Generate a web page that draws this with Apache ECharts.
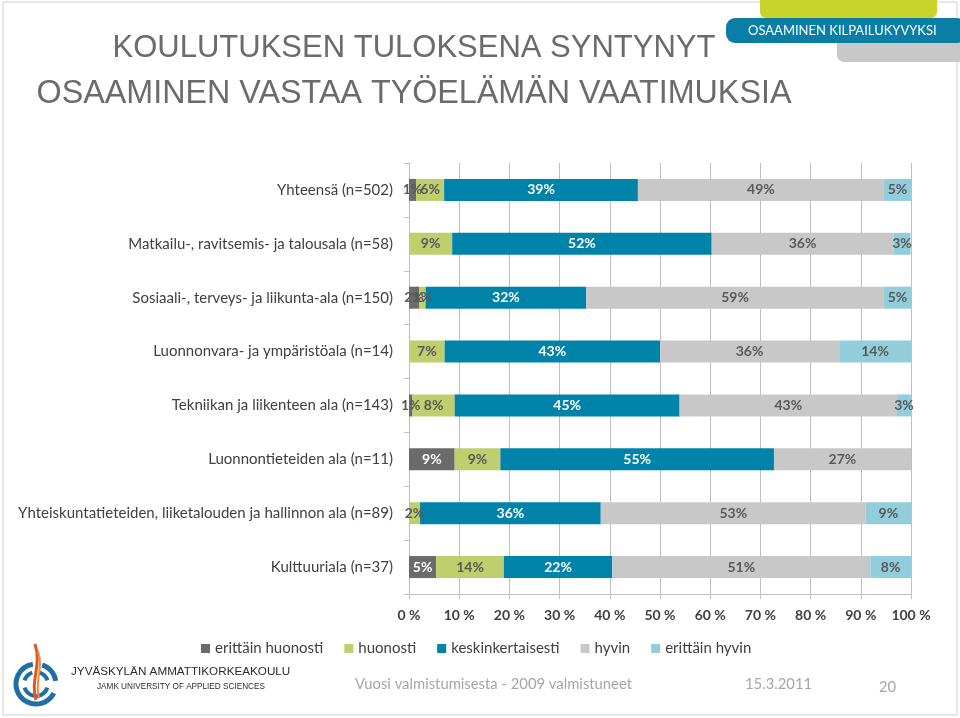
<!DOCTYPE html>
<html><head><meta charset="utf-8">
<script src="https://cdn.jsdelivr.net/npm/echarts@6/dist/echarts.min.js"></script>
<style>html,body{margin:0;padding:0;background:#fff;}#c{width:960px;height:718px;}</style>
</head><body><div id="c"></div>
<script>
const categories = [
  'Yhteensä (n=502)',
  'Matkailu-, ravitsemis- ja talousala (n=58)',
  'Sosiaali-, terveys- ja liikunta-ala (n=150)',
  'Luonnonvara- ja ympäristöala (n=14)',
  'Tekniikan ja liikenteen ala (n=143)',
  'Luonnontieteiden ala (n=11)',
  'Yhteiskuntatieteiden, liiketalouden ja hallinnon ala (n=89)',
  'Kulttuuriala (n=37)'
];
const seriesNames = ['erittäin huonosti', 'huonosti', 'keskinkertaisesti', 'hyvin', 'erittäin hyvin'];
// shares in percent (labels show rounded values)
const erittainHuonosti = [1.4, 0,    2.0,  0,    0.7,  9.1,  0,    5.4];
const huonosti         = [5.6, 8.6,  1.3,  7.1,  8.4,  9.1,  2.2,  13.5];
const keskinkertaisesti= [38.6, 51.7, 32.0, 42.9, 44.8, 54.5, 36.0, 21.6];
const hyvin            = [49.0, 36.2, 59.3, 35.7, 43.3, 27.3, 52.8, 51.4];
const erittainHyvin    = [5.4, 3.4,  5.4,  14.3, 2.8,  0,    9.0,  8.1];
const xTicks = ['0 %','10 %','20 %','30 %','40 %','50 %','60 %','70 %','80 %','90 %','100 %'];

const colors = ['#6b6b6b', '#bfcf6e', '#0083a9', '#c8c8c8', '#92cddc'];
const labelColors = ['#ffffff', '#595959', '#ffffff', '#595959', '#595959'];
const allValues = [erittainHuonosti, huonosti, keskinkertaisesti, hyvin, erittainHyvin];
const FONT = 'Lato';

const series = allValues.map((vals, si) => ({
  name: seriesNames[si],
  type: 'bar',
  stack: 'total',
  barWidth: 22,
  itemStyle: { color: colors[si] },
  label: {
    show: true,
    position: 'inside',
    fontFamily: FONT,
    fontWeight: 'bold',
    fontSize: 14,
    color: labelColors[si],
    formatter: p => p.value > 0 ? Math.round(p.value) + '%' : ''
  },
  data: vals.map(v => (si === 0 && v < 3) ? { value: v, label: { color: '#595959' } } : v)
}));

const chart = echarts.init(document.getElementById('c'));
chart.setOption({
  backgroundColor: '#ffffff',
  animation: false,
  textStyle: { fontFamily: FONT },
  grid: { left: 409, right: 49, top: 163, bottom: 124, containLabel: false },
  xAxis: {
    type: 'value', min: 0, max: 100, interval: 10,
    axisLine: { show: true, lineStyle: { color: '#bfbfbf' } },
    axisTick: { show: true, length: 5, lineStyle: { color: '#bfbfbf' } },
    splitLine: { show: true, lineStyle: { color: '#bfbfbf', width: 1 } },
    axisLabel: { color: '#404040', fontSize: 14, fontWeight: 'bold', fontFamily: FONT, margin: 14,
      formatter: v => xTicks[Math.round(v / 10)] }
  },
  yAxis: {
    type: 'category', data: categories, inverse: true,
    axisLine: { show: true, lineStyle: { color: '#bfbfbf' } },
    axisTick: { show: true, length: 5, lineStyle: { color: '#bfbfbf' } },
    axisLabel: { color: '#404040', fontSize: 15, fontFamily: FONT, margin: 16 }
  },
  legend: {
    data: seriesNames, left: 196, top: 636, itemWidth: 9, itemHeight: 9, itemGap: 21,
    icon: 'rect',
    textStyle: { color: '#404040', fontSize: 15, fontFamily: FONT }
  },
  series: series,
  graphic: [
    { type: 'rect', shape: { x: 3, y: 2, width: 954, height: 713 }, style: { fill: 'none', stroke: '#d0d0d0', lineWidth: 1 }, silent: true },
    { type: 'rect', shape: { x: 760, y: -6, width: 177, height: 24, r: 6 }, style: { fill: '#c8d42a' } },
    { type: 'rect', shape: { x: 837, y: 36, width: 130, height: 26, r: 7 }, style: { fill: '#c8c8c8' } },
    { type: 'rect', shape: { x: 726, y: 18, width: 240, height: 25, r: 9 }, style: { fill: '#0a7ea4' } },
    { type: 'text', left: 748, top: 24, style: { text: 'OSAAMINEN KILPAILUKYVYKSI', fill: '#ffffff', font: '13px Lato' } },
    { type: 'text', x: 414, y: 48, style: { text: 'KOULUTUKSEN TULOKSENA SYNTYNYT', fill: '#6b6b6b', font: '31px "Liberation Sans"', textAlign: 'center', textVerticalAlign: 'middle' } },
    { type: 'text', x: 414, y: 94, style: { text: 'OSAAMINEN VASTAA TYÖELÄMÄN VAATIMUKSIA', fill: '#6b6b6b', font: '32.3px "Liberation Sans"', textAlign: 'center', textVerticalAlign: 'middle' } },
    // logo
    { type: 'arc', shape: { cx: 36, cy: 684, r: 20, startAngle: 0.15 * Math.PI, endAngle: 1.45 * Math.PI, clockwise: true }, style: { stroke: '#1f6ea8', lineWidth: 5, fill: 'none' } },
    { type: 'arc', shape: { cx: 36, cy: 684, r: 20, startAngle: 1.6 * Math.PI, endAngle: 1.95 * Math.PI }, style: { stroke: '#1f6ea8', lineWidth: 5, fill: 'none' } },
    { type: 'arc', shape: { cx: 36, cy: 684, r: 12, startAngle: 0.1 * Math.PI, endAngle: 0.9 * Math.PI }, style: { stroke: '#1f6ea8', lineWidth: 4, fill: 'none' } },
    { type: 'arc', shape: { cx: 36, cy: 684, r: 12, startAngle: 1.1 * Math.PI, endAngle: 1.4 * Math.PI }, style: { stroke: '#1f6ea8', lineWidth: 4, fill: 'none' } },
    { type: 'arc', shape: { cx: 36, cy: 684, r: 12, startAngle: 1.6 * Math.PI, endAngle: 1.9 * Math.PI }, style: { stroke: '#1f6ea8', lineWidth: 4, fill: 'none' } },
    { type: 'bezierCurve', shape: { x1: 36, y1: 700, cpx1: 30, cpy1: 680, cpx2: 42, cpy2: 665, x2: 35, y2: 644 }, style: { stroke: '#e2571f', lineWidth: 3, fill: 'none' } },
    { type: 'bezierCurve', shape: { x1: 39, y1: 698, cpx1: 34, cpy1: 682, cpx2: 44, cpy2: 668, x2: 38, y2: 651 }, style: { stroke: '#f08a3c', lineWidth: 2, fill: 'none' } },
    { type: 'text', left: 71, top: 666, style: { text: 'JYVÄSKYLÄN AMMATTIKORKEAKOULU', fill: '#2b2b2b', font: '11.7px "Liberation Sans"' } },
    { type: 'text', left: 97, top: 683, style: { text: 'JAMK UNIVERSITY OF APPLIED SCIENCES', fill: '#2b2b2b', font: '8.2px "Liberation Sans"' } },
    { type: 'text', left: 355, top: 677, style: { text: 'Vuosi valmistumisesta - 2009 valmistuneet', fill: '#a6a6a6', font: '14.8px Lato' } },
    { type: 'text', left: 745, top: 677, style: { text: '15.3.2011', fill: '#a6a6a6', font: '14.8px Lato' } },
    { type: 'text', left: 879, top: 680, style: { text: '20', fill: '#a6a6a6', font: '14.8px Lato' } }
  ]
});
</script></body></html>
